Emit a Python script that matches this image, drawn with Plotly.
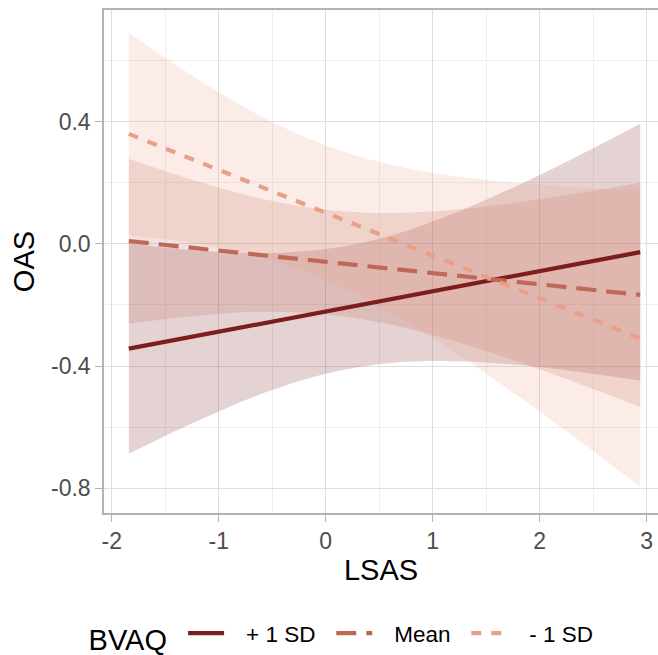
import plotly.graph_objects as go

# LSAS grid at which fitted OAS values and 95% CI limits are tabulated
lsas = [-1.84, -1.2, -0.6, 0.0, 0.6, 1.2, 1.8, 2.4, 2.94]

# Fitted simple slopes of OAS on LSAS at three BVAQ levels
fit_plus = [-0.343, -0.301, -0.261, -0.221, -0.182, -0.142, -0.102, -0.063, -0.027]
fit_mean = [0.009, -0.015, -0.037, -0.059, -0.081, -0.103, -0.125, -0.147, -0.167]
fit_minus = [0.360, 0.270, 0.186, 0.102, 0.018, -0.066, -0.150, -0.234, -0.310]

# Confidence band limits
lo_plus = [-0.687, -0.580, -0.491, -0.425, -0.390, -0.384, -0.396, -0.421, -0.447]
hi_plus = [0.001, -0.022, -0.031, -0.017, 0.026, 0.100, 0.192, 0.295, 0.393]
lo_mean = [-0.261, -0.235, -0.222, -0.230, -0.263, -0.318, -0.386, -0.462, -0.534]
hi_mean = [0.279, 0.205, 0.148, 0.112, 0.101, 0.112, 0.136, 0.168, 0.200]
lo_minus = [0.029, 0.000, -0.045, -0.119, -0.224, -0.354, -0.499, -0.652, -0.795]
hi_minus = [0.691, 0.540, 0.417, 0.323, 0.260, 0.222, 0.199, 0.184, 0.175]

group_names = ["+ 1 SD", "Mean", "- 1 SD"]
x_ticks = [-2, -1, 0, 1, 2, 3]
y_ticks = [-0.8, -0.4, 0.0, 0.4]
y_tick_text = ["-0.8", "-0.4", "0.0", "0.4"]

colors = ["rgb(125,30,30)", "rgb(192,104,88)", "rgb(233,160,136)"]
fills = ["rgba(125,30,30,0.2)", "rgba(192,104,88,0.2)", "rgba(233,160,136,0.2)"]
dashes = ["solid", "20px,10px", "10px,10px"]

fits = [fit_plus, fit_mean, fit_minus]
lows = [lo_plus, lo_mean, lo_minus]
highs = [hi_plus, hi_mean, hi_minus]

FONT = "Liberation Sans, Arial, sans-serif"
NB = "\u00a0"
THIN = "\u2009"

fig = go.Figure()

# ribbons first
for lo, hi, fc in zip(lows, highs, fills):
    fig.add_trace(go.Scatter(x=lsas, y=lo, mode="lines", line=dict(width=0, shape="spline"),
                             showlegend=False, hoverinfo="skip"))
    fig.add_trace(go.Scatter(x=lsas, y=hi, mode="lines", line=dict(width=0, shape="spline"),
                             fill="tonexty", fillcolor=fc, showlegend=False, hoverinfo="skip"))

# fitted lines on top
for name, fit, c, d in zip(group_names, fits, colors, dashes):
    fig.add_trace(go.Scatter(x=[lsas[0], lsas[-1]], y=[fit[0], fit[-1]], mode="lines",
                             name=NB * 2 + THIN + name + NB + THIN,
                             line=dict(color=c, width=4.2, dash=d)))

grid_major = "#DEDEDE"
grid_minor = "#EEEEEE"
border = "#B3B3B3"

fig.update_layout(
    width=658, height=655,
    margin=dict(l=104, r=0, t=10, b=142),
    paper_bgcolor="white", plot_bgcolor="white",
    font=dict(family=FONT, color="black"),
    showlegend=True,
    legend=dict(
        orientation="h", xref="container", yref="container",
        x=0.529, xanchor="center", y=0.029, yanchor="middle",
        font=dict(size=22.5, color="black", family=FONT),
        title=dict(text="BVAQ" + NB, font=dict(size=29, color="black", family=FONT), side="left"),
        itemwidth=36, traceorder="normal",
    ),
    xaxis=dict(
        range=[-2.072, 3.106], tickvals=x_ticks, ticktext=[str(v) for v in x_ticks],
        showgrid=True, gridcolor=grid_major, gridwidth=1.3,
        minor=dict(dtick=0.5, tick0=-2, showgrid=True, gridcolor=grid_minor, gridwidth=1),
        zeroline=False, showline=True, linecolor=border, linewidth=1.5, mirror=True,
        ticks="outside", ticklen=7, tickwidth=1.3, tickcolor=border,
        tickfont=dict(size=23, color="#4D4D4D", family=FONT),
        title=dict(text="LSAS", font=dict(size=29, color="black", family=FONT), standoff=6),
    ),
    yaxis=dict(
        range=[-0.881, 0.7656], tickvals=y_ticks, ticktext=y_tick_text,
        showgrid=True, gridcolor=grid_major, gridwidth=1.3,
        minor=dict(dtick=0.2, tick0=0, showgrid=True, gridcolor=grid_minor, gridwidth=1),
        zeroline=False, showline=True, linecolor=border, linewidth=1.5,
        ticks="outside", ticklen=7, tickwidth=1.3, tickcolor=border,
        tickfont=dict(size=23, color="#4D4D4D", family=FONT),
        title=dict(text="OAS", font=dict(size=29, color="black", family=FONT), standoff=8),
    ),
)

fig.write_html("out.html")
